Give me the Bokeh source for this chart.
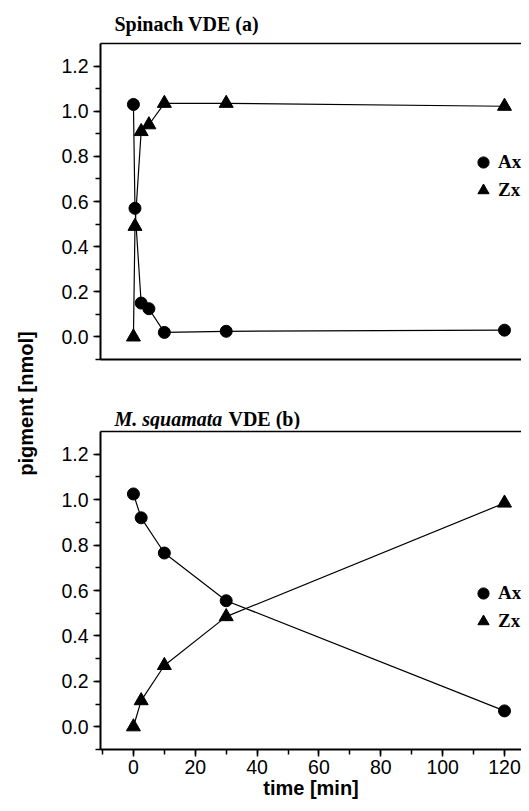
import math
from bokeh.plotting import figure
from bokeh.models import (Label, Legend, LegendItem, LinearAxis, FixedTicker,
                          SingleIntervalTicker, Range1d, PrintfTickFormatter)
from bokeh.layouts import row, column
from bokeh.embed import file_html
from bokeh.resources import INLINE

# ---------------- data ----------------
time_a = [0, 0.5, 2.5, 5, 10, 30, 120]
ax_a = [1.03, 0.57, 0.15, 0.125, 0.02, 0.025, 0.03]
zx_a = [0.0, 0.49, 0.91, 0.94, 1.035, 1.035, 1.022]

time_b = [0, 2.5, 10, 30, 120]
ax_b = [1.025, 0.92, 0.765, 0.555, 0.07]
zx_b = [0.0, 0.115, 0.27, 0.485, 0.985]

series_names = ["Ax", "Zx"]
title_a = "Spinach VDE (a)"
title_b_italic = "M. squamata"
title_b_rest = "VDE (b)"
x_title = "time [min]"
y_title = "pigment [nmol]"

X_MIN, X_MAX = -10.65, 125.5
Y_MIN, Y_MAX = -0.1, 1.3

SANS = "Liberation Sans"
SERIF = "Liberation Serif"
PANEL_W = 481


def make_panel(time, ax, zx, height, b_top, b_bottom, show_x, legend_y):
    p = figure(width=PANEL_W, height=height,
               x_range=Range1d(X_MIN, X_MAX), y_range=Range1d(Y_MIN, Y_MAX),
               output_backend="svg", toolbar_location=None,
               x_axis_location=None, y_axis_location=None,
               min_border_left=60, min_border_right=0,
               min_border_top=b_top, min_border_bottom=b_bottom)
    p.outline_line_color = None
    p.xgrid.visible = False
    p.ygrid.visible = False

    # left axis
    yax = LinearAxis(ticker=SingleIntervalTicker(interval=0.2, num_minor_ticks=2),
                     formatter=PrintfTickFormatter(format="%.1f"))
    yax.axis_line_width = 2
    yax.axis_line_color = "black"
    yax.major_tick_in = 0
    yax.major_tick_out = 7
    yax.minor_tick_in = 0
    yax.minor_tick_out = 5
    yax.major_tick_line_width = 1.5
    yax.minor_tick_line_width = 1.5
    yax.major_tick_line_color = "black"
    yax.minor_tick_line_color = "black"
    yax.major_label_standoff = 5
    yax.major_label_text_font = SANS
    yax.major_label_text_font_size = "19.5px"
    yax.major_label_text_color = "black"
    p.add_layout(yax, "left")

    # top frame line
    top = LinearAxis(ticker=FixedTicker(ticks=[]))
    top.axis_line_width = 1.5
    top.axis_line_color = "black"
    top.major_tick_out = 0
    top.minor_tick_out = 0
    top.major_tick_in = 0
    top.minor_tick_in = 0
    p.add_layout(top, "above")

    # bottom axis
    if show_x:
        xax = LinearAxis(ticker=SingleIntervalTicker(interval=20, num_minor_ticks=2))
        xax.major_tick_in = 0
        xax.major_tick_out = 7
        xax.minor_tick_in = 0
        xax.minor_tick_out = 5
        xax.major_tick_line_width = 1.5
        xax.minor_tick_line_width = 1.5
        xax.major_tick_line_color = "black"
        xax.minor_tick_line_color = "black"
        xax.major_label_standoff = 3
        xax.major_label_text_font = SANS
        xax.major_label_text_font_size = "19.5px"
        xax.major_label_text_color = "black"
        xax.axis_label = x_title
        xax.axis_label_text_font = SANS
        xax.axis_label_text_font_style = "bold"
        xax.axis_label_text_font_size = "20px"
        xax.axis_label_text_color = "black"
        xax.axis_label_standoff = 0
    else:
        xax = LinearAxis(ticker=FixedTicker(ticks=[]))
        xax.major_tick_out = 0
        xax.minor_tick_out = 0
        xax.major_tick_in = 0
        xax.minor_tick_in = 0
    xax.axis_line_width = 2
    xax.axis_line_color = "black"
    p.add_layout(xax, "below")

    # data
    p.line(time, ax, line_color="black", line_width=1.2)
    p.line(time, zx, line_color="black", line_width=1.2)
    r_ax = p.scatter(time, ax, marker="circle", size=12, color="black")
    r_zx = p.scatter(time, zx, marker="triangle", size=14, color="black")

    legend = Legend(items=[LegendItem(label=series_names[0], renderers=[r_ax]),
                           LegendItem(label=series_names[1], renderers=[r_zx])],
                    location=(368, legend_y), orientation="vertical",
                    glyph_width=30, glyph_height=28, spacing=0,
                    padding=0, margin=0, label_standoff=0,
                    border_line_color=None, background_fill_alpha=0,
                    label_text_font=SERIF, label_text_font_style="bold",
                    label_text_font_size="19px", label_text_color="black")
    p.add_layout(legend)
    return p


def make_title_fig(height, parts, center_from_bottom):
    # frame of this strip is aligned with the panel frames in the column
    t = figure(width=PANEL_W, height=height, x_range=Range1d(X_MIN, X_MAX),
               y_range=Range1d(0, height), output_backend="svg",
               toolbar_location=None, x_axis_location=None, y_axis_location=None,
               min_border=0)
    t.outline_line_color = None
    t.xgrid.visible = False
    t.ygrid.visible = False
    for text, style, xoff in parts:
        t.add_layout(Label(x=-6.13, y=center_from_bottom, x_offset=xoff, text=text,
                           text_font=SERIF, text_font_style=style,
                           text_font_size="20px", text_color="black",
                           text_baseline="middle", text_align="left"))
    return t


ta = make_title_fig(38, [(title_a, "bold", 0)], 15)
pa = make_panel(time_a, ax_a, zx_a, 355, 5, 34, False, 155)
tb = make_title_fig(36, [(title_b_italic, "bold italic", 0),
                         (title_b_rest, "bold", 114)], 11)
pb = make_panel(time_b, ax_b, zx_b, 374, 2, 54, True, 114)

# y-axis title shared by both panels
lab = figure(width=40, height=803, x_range=Range1d(0, 40), y_range=Range1d(0, 803),
             output_backend="svg", toolbar_location=None,
             x_axis_location=None, y_axis_location=None, min_border=0)
lab.outline_line_color = None
lab.xgrid.visible = False
lab.ygrid.visible = False
lab.add_layout(Label(x=25, y=400, text=y_title, angle=math.pi / 2,
                     text_align="center", text_baseline="middle",
                     text_font=SANS, text_font_style="bold",
                     text_font_size="20px", text_color="black"))

layout = row(lab, column(ta, pa, tb, pb))
open("out.html", "w").write(file_html(layout, INLINE))
